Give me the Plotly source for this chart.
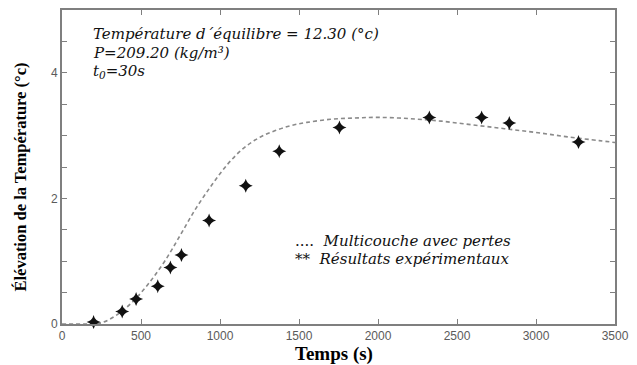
import plotly.graph_objects as go

# Simulated temperature rise (multilayer model with losses)
model_t = [0, 150, 250, 350, 450, 550, 650, 750, 850, 950, 1050, 1150, 1250,
           1350, 1450, 1550, 1700, 1850, 2000, 2200, 2400, 2600, 2800, 3000,
           3200, 3400, 3500]
model_dT = [0, 0, 0.02, 0.15, 0.36, 0.65, 1.0, 1.42, 1.85, 2.22, 2.55, 2.8,
            2.97, 3.08, 3.16, 3.21, 3.26, 3.28, 3.29, 3.27, 3.23, 3.17, 3.11,
            3.05, 2.98, 2.92, 2.89]

# Measured temperature rise
exp_t = [200, 381, 469, 606, 686, 756, 931, 1163, 1375, 1756, 2325, 2656,
         2831, 3269]
exp_dT = [0.03, 0.2, 0.4, 0.6, 0.9, 1.1, 1.65, 2.2, 2.75, 3.13, 3.29, 3.29,
          3.2, 2.9]

x_ticks = [0, 500, 1000, 1500, 2000, 2500, 3000, 3500]
y_ticks = [0, 2, 4]

axis_grey = "#7f7f7f"
label_grey = "#5a5a5a"

fig = go.Figure()
fig.add_trace(go.Scatter(
    x=model_t, y=model_dT, mode="lines",
    line=dict(color="#8a8a8a", width=1.6, dash="4px,3px", shape="spline"),
    showlegend=False,
))
fig.add_trace(go.Scatter(
    x=exp_t, y=exp_dT, mode="markers",
    marker=dict(symbol="star-diamond", size=10, color="#111111"),
    cliponaxis=False, showlegend=False,
))

common_axis = dict(
    showline=True, linecolor=axis_grey, linewidth=2, mirror="ticks",
    ticks="inside", ticklen=5, tickwidth=1, tickcolor=axis_grey,
    showgrid=False, zeroline=False,
    tickfont=dict(family="Liberation Sans", size=12, color=label_grey),
)

fig.update_layout(
    width=637, height=365,
    margin=dict(l=62, r=14, t=8, b=41),
    paper_bgcolor="white", plot_bgcolor="white",
    xaxis=dict(range=[0, 3500], tickvals=x_ticks, **common_axis),
    yaxis=dict(range=[0, 5], tickvals=y_ticks,
               minor=dict(dtick=0.5, ticks="inside", ticklen=5,
                          tickcolor=axis_grey, showgrid=False),
               **common_axis),
)

ann_font = dict(family="DejaVu Serif", size=15, color="#111111")
header = [
    ("<i>Température d´équilibre = 12.30 (°c)</i>", 32),
    ("<i>P=209.20 (kg/m³)</i>", 51),
    ("<i>t<sub>0</sub>=30s</i>", 70),
]
for text, ypix in header:
    fig.add_annotation(
        text=text, xref="paper", yref="paper",
        x=(91 - 62) / 561, y=(324 - ypix) / 316,
        xanchor="left", yanchor="middle", showarrow=False, font=ann_font,
    )

legend_lines = [
    ("....  <i>Multicouche avec pertes</i>", 240),
    ("**  <i>Résultats expérimentaux</i>", 259),
]
for text, ypix in legend_lines:
    fig.add_annotation(
        text=text, xref="paper", yref="paper",
        x=(296 - 62) / 561, y=(324 - ypix) / 316,
        xanchor="left", yanchor="middle", showarrow=False, font=ann_font,
    )

fig.add_annotation(
    text="<b>Élévation de la Température (°c)</b>", textangle=-90,
    xref="paper", yref="paper", x=(20 - 62) / 561, y=(324 - 176) / 316,
    xanchor="center", yanchor="middle", showarrow=False,
    font=dict(family="Liberation Serif", size=16.5, color="#000000"),
)
fig.add_annotation(
    text="<b>Temps (s)</b>", xref="paper", yref="paper",
    x=(338 - 62) / 561, y=(324 - 354) / 316,
    xanchor="center", yanchor="middle", showarrow=False,
    font=dict(family="Liberation Serif", size=19, color="#000000"),
)

fig.write_html("out.html")
